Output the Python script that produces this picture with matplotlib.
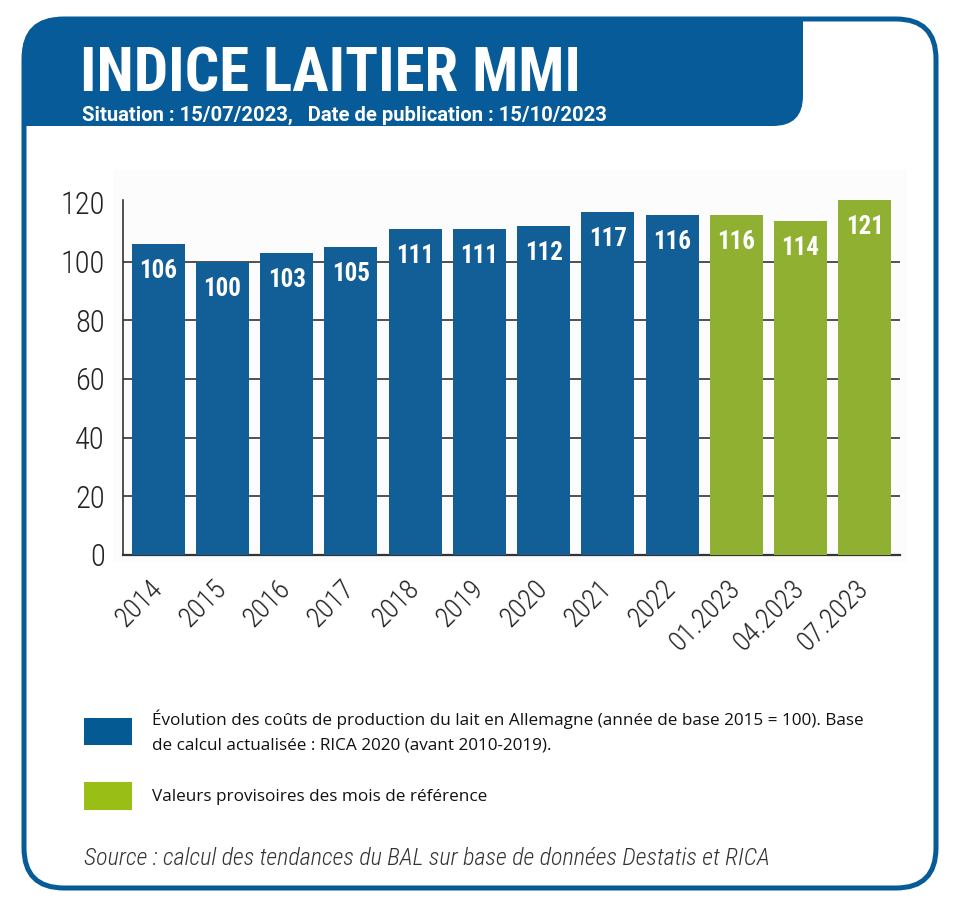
import matplotlib
matplotlib.use('Agg')
import matplotlib.pyplot as plt
from matplotlib import font_manager as fm
from matplotlib.patches import FancyBboxPatch, PathPatch, Rectangle
from matplotlib.path import Path

# données
categories = ['2014', '2015', '2016', '2017', '2018', '2019', '2020', '2021', '2022',
              '01.2023', '04.2023', '07.2023']
values = [106, 100, 103, 105, 111, 111, 112, 117, 116, 116, 114, 121]
provisoire = [False] * 9 + [True] * 3
y_ticks = [0, 20, 40, 60, 80, 100, 120]

title = 'INDICE LAITIER MMI'
subtitle = 'Situation : 15/07/2023,   Date de publication : 15/10/2023'
legend_blue = ['Évolution des coûts de production du lait en Allemagne (année de base 2015 = 100). Base',
               'de calcul actualisée : RICA 2020 (avant 2010-2019).']
legend_green = 'Valeurs provisoires des mois de référence'
source = 'Source : calcul des tendances du BAL sur base de données Destatis et RICA'

BLUE = '#125e96'
GREEN = '#8fb031'
FRAME = '#075b98'

names = {f.name for f in fm.fontManager.ttflist}
narrow = next((n for n in ['Roboto Condensed', 'Liberation Sans Narrow', 'DejaVu Sans']
               if n in names), 'DejaVu Sans')
wide = next((n for n in ['Roboto', 'DejaVu Sans'] if n in names), 'DejaVu Sans')
body = next((n for n in ['Open Sans', 'Noto Sans', 'DejaVu Sans'] if n in names), 'DejaVu Sans')

fig = plt.figure(figsize=(9.6, 9.19), dpi=100)

# fond / cadre en coordonnées pixels
bg = fig.add_axes([0, 0, 1, 1])
bg.set_xlim(0, 960)
bg.set_ylim(919, 0)
bg.axis('off')

bg.add_patch(FancyBboxPatch((24, 19), 912, 869, boxstyle='round,pad=0,rounding_size=40',
                            fc='white', ec=FRAME, lw=3.6))
verts = [(22, 126), (22, 57), (22, 17), (62, 17), (803, 17), (803, 96),
         (803, 126), (773, 126), (22, 126)]
codes = [Path.MOVETO, Path.LINETO, Path.CURVE3, Path.CURVE3, Path.LINETO, Path.LINETO,
         Path.CURVE3, Path.CURVE3, Path.CLOSEPOLY]
bg.add_patch(PathPatch(Path(verts, codes), fc=FRAME, ec='none'))
bg.add_patch(Rectangle((113, 170), 794, 392, fc='#fcfcfc', ec='none'))

bg.text(80, 92, title, color='white', fontsize=43.8, fontweight='bold',
        family=narrow, va='baseline')
bg.text(82, 121, subtitle, color='white', fontsize=14.6, fontweight='bold',
        family=wide, va='baseline')

bg.add_patch(Rectangle((84, 718), 48, 27, fc='#045a93', ec='none'))
bg.add_patch(Rectangle((84, 782), 48, 28, fc='#99bf16', ec='none'))
bg.text(152, 719, legend_blue[0], fontsize=12.3, family=body, va='center', color='#111')
bg.text(152, 745, legend_blue[1], fontsize=12.3, family=body, va='center', color='#111')
bg.text(152, 797, legend_green, fontsize=12.3, family=body, va='center', color='#111')
bg.text(84, 858, source, fontsize=17.4, family=narrow, style='italic', fontweight='light',
        va='center', color='#333')

# graphique
ax = fig.add_axes([123 / 960, 1 - 555 / 919, (900 - 123) / 960, 355 / 919])
ax.set_facecolor('none')
x = range(len(values))
colors = [GREEN if p else BLUE for p in provisoire]
ax.bar(x, values, width=0.825, color=colors, zorder=3)
for yv in y_ticks[1:-1]:
    ax.axhline(yv, color='#333333', lw=1.2, zorder=1)
for i, v in enumerate(values):
    ax.annotate(str(v), (i, v), xytext=(0, -27), textcoords='offset pixels',
                ha='center', va='center', color='white', fontsize=18,
                fontweight='bold', family=narrow, zorder=4)

ax.set_xlim(-0.55, 11.55)
ax.set_ylim(0, 121)
ax.set_yticks(y_ticks)
ax.set_yticklabels([str(t) for t in y_ticks], fontsize=22, family=narrow,
                   fontweight='light', color='#222')
ax.set_xticks(list(x))
ax.set_xticklabels(categories, fontsize=20, family=narrow, fontweight='light', color='#222',
                   rotation=45, ha='right', va='center', rotation_mode='anchor')
ax.tick_params(axis='y', length=0, pad=13)
ax.tick_params(axis='x', length=0, pad=21)
for s in ['top', 'right']:
    ax.spines[s].set_visible(False)
ax.spines['left'].set_color('#333333')
ax.spines['left'].set_linewidth(1.2)
ax.spines['bottom'].set_color('#333333')
ax.spines['bottom'].set_linewidth(1.6)

fig.savefig('out.png', dpi=100)
